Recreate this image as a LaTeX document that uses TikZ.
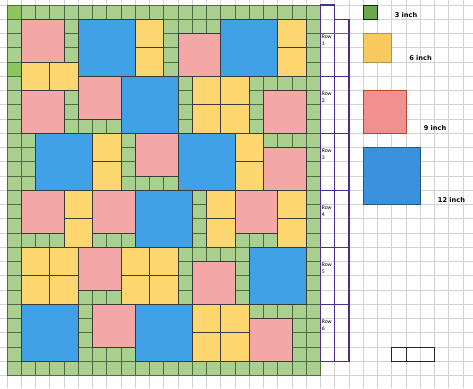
\documentclass[tikz,border=0pt]{standalone}
\usepackage{fontspec}
\setmainfont{Carlito}
\newfontfamily\legendfont{DejaVu Sans}
\definecolor{gfill}{HTML}{A9D08E}
\definecolor{gbright}{HTML}{8DC65E}
\definecolor{gline}{HTML}{4E6B44}
\definecolor{pinkq}{HTML}{F4A7A7}
\definecolor{blueq}{HTML}{41A1E6}
\definecolor{yellowq}{HTML}{FED66F}
\definecolor{edgeq}{HTML}{3A3A3A}
\definecolor{lgreen}{HTML}{6AA84F}
\definecolor{lyellow}{HTML}{F8C95E}
\definecolor{lpink}{HTML}{F09090}
\definecolor{lblue}{HTML}{3A92DE}
\definecolor{rowpurple}{HTML}{4F2A8F}
\definecolor{gridgray}{HTML}{D2D2D2}
\tikzset{
  gridline/.style={draw=gridgray, line width=0.6pt},
  gcell/.style={fill=gfill, draw=gline, line width=0.8pt},
  gcellbright/.style={fill=gbright, draw=gline, line width=0.8pt},
  pinkp/.style={fill=pinkq, draw=edgeq, line width=0.8pt},
  bluep/.style={fill=blueq, draw=edgeq, line width=0.8pt},
  yellowp/.style={fill=yellowq, draw=edgeq, line width=0.8pt},
  rowbox/.style={draw=rowpurple, line width=1.1pt},
  rowlabel/.style={anchor=north west, inner sep=0pt, align=left, font=\fontsize{5.6}{7}\selectfont},
  legendtext/.style={font=\legendfont\bfseries\fontsize{6.6}{7}\selectfont, inner sep=0pt},
  smallbox/.style={draw=black!85, line width=1pt}
}
\begin{document}
\begin{tikzpicture}[x=1pt,y=-1pt]
\useasboundingbox (0,0) rectangle (473,388);
\fill[white] (0,0) rectangle (473,388);
% background grid
\foreach \k in {0,...,32} \draw[gridline] ({7+14.25*\k},0) -- ({7+14.25*\k},388);
\foreach \k in {0,...,26} \draw[gridline] (0,{5+14.25*\k}) -- (473,{5+14.25*\k});
\begin{scope}[xshift=7pt, yshift=-5pt, x=14.25pt, y=-14.25pt]
  % green background cells
  \foreach \c in {0,...,21} {
    \foreach \r in {0,...,25} {
      \draw[gcell] (\c,\r) rectangle ++(1,1);
    }
  }
  \draw[gcellbright] (0,0) rectangle ++(1,1);
  \draw[gcellbright] (0,4) rectangle ++(1,1);
  % 12 inch blocks
  \foreach \c/\r in {5/1,15/1,8/5,2/9,12/9,9/13,17/17,1/21,9/21}
    \draw[bluep] (\c,\r) rectangle ++(4,4);
  % 9 inch blocks
  \foreach \c/\r in {1/1,12/2,5/5,18/6,1/6,9/9,18/10,1/13,6/13,16/13,5/17,13/18,6/21,17/22}
    \draw[pinkp] (\c,\r) rectangle ++(3,3);
  % 6 inch blocks
  \foreach \c/\r in {1/4,3/4,9/1,9/3,19/1,19/3,13/5,15/5,13/7,15/7,6/9,6/11,16/9,16/11,
                     4/13,4/15,14/13,14/15,19/13,19/15,1/17,3/17,1/19,3/19,8/17,10/17,8/19,10/19,
                     13/21,15/21,13/23,15/23}
    \draw[yellowp] (\c,\r) rectangle ++(2,2);
  % row indicator boxes
  \draw[rowbox] (22,0) rectangle (23,25);
  \draw[rowbox] (23,1) rectangle (24,25);
  \foreach \r in {5,9,13,17,21} \draw[rowbox] (22,\r) -- (24,\r);
  \draw[draw=black!60, line width=0.6pt] (22,2) -- (24,2);
  \foreach \n/\r in {1/2,2/6,3/10,4/14,5/18,6/22}
    \node[rowlabel] (rl\n) at (22.08,\r+0.05) {Row\\\n};
  % legend
  \draw[fill=lgreen, draw=black!60!green!50!black, line width=0.8pt] (25,0) rectangle ++(1,1);
  \draw[fill=lyellow, draw=black!50!yellow!40!brown, line width=0.8pt] (25,2) rectangle ++(2,2);
  \draw[fill=lpink, draw=black!40!red!40!brown, line width=0.8pt] (25,6) rectangle ++(3,3);
  \draw[fill=lblue, draw=lblue!60!black, line width=0.8pt] (25,10) rectangle ++(4,4);
  % small boxes bottom right
  \draw[smallbox] (27,24) rectangle (28,25);
  \draw[smallbox] (28,24) rectangle (30,25);
\end{scope}
\node[legendtext] (t3) at (406,15) {3 inch};
\node[legendtext] (t6) at (420.5,58) {6 inch};
\node[legendtext] (t9) at (435,128.5) {9 inch};
\node[legendtext] (t12) at (451.5,200) {12 inch};
\end{tikzpicture}
\end{document}
